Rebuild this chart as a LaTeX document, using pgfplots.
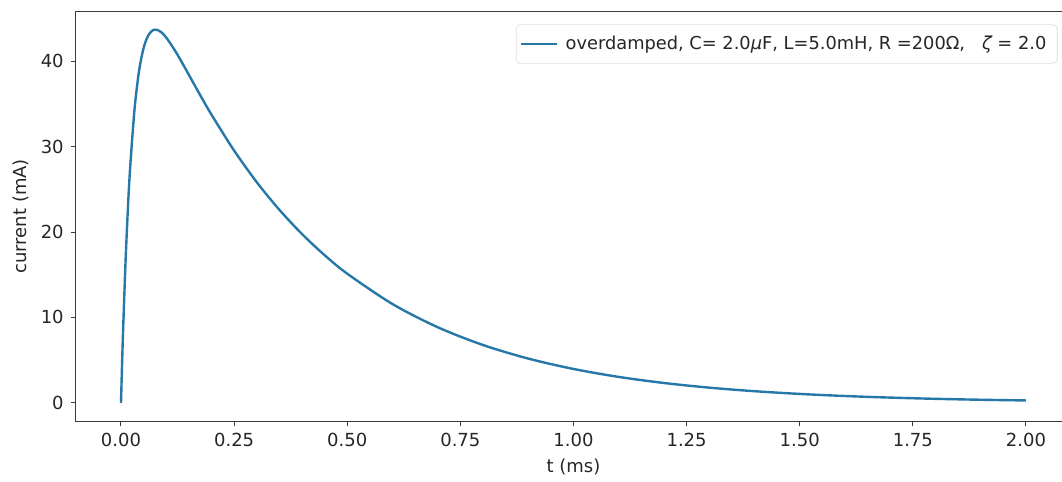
\documentclass[border=0pt]{standalone}
\usepackage{pgfplots}
\pgfplotsset{compat=1.18}
\usepackage{fontspec}
\setmainfont{DejaVu Sans}
\definecolor{line}{RGB}{38,120,168}
\definecolor{spine}{RGB}{60,60,60}
\begin{document}
\begin{tikzpicture}
\begin{axis}[
  width=497.5pt, height=205pt, scale only axis,
  xmin=-0.1, xmax=2.1, ymin=-2.184, ymax=45.864,
  clip=false,
  axis line style={spine, line width=0.5pt},
  xtick={0,0.25,0.5,0.75,1,1.25,1.5,1.75,2},
  ytick={0,10,20,30,40},
  xticklabel style={/pgf/number format/.cd, fixed, fixed zerofill, precision=2},
  /pgf/number format/assume math mode=true,
  tick align=outside, tick pos=left,
  major tick length=2.5pt,
  tick style={spine, line width=0.5pt},
  ticklabel style={font=\fontsize{9}{10}\selectfont, text=black!85},
  xlabel={t (ms)}, ylabel={current (mA)},
  label style={font=\fontsize{9}{10}\selectfont, text=black!85},
  xlabel style={yshift=1pt},
  ylabel style={yshift=-1pt},
  legend image code/.code={\draw[#1] (0pt,0pt) -- (18pt,0pt);},
  legend style={at={(0.9865,0.968)}, anchor=north east, draw=black!12, rounded corners=2pt,
    font=\fontsize{8.9}{10}\selectfont, inner xsep=2pt, inner ysep=3.5pt, text=black!85,
    nodes={inner xsep=3.5pt}},
  legend cell align=left,
]
\addplot[line, line width=1.2pt, smooth] coordinates {
(0,0) (0.0025,4.757) (0.005,9.060) (0.01,16.457) (0.015,22.476) (0.02,27.352)
(0.03,34.430) (0.04,38.892) (0.05,41.562) (0.06,43.009) (0.07,43.626)
(0.08,43.680) (0.09,43.356) (0.10,42.782) (0.12,41.204) (0.14,39.365)
(0.16,37.458) (0.18,35.572) (0.20,33.750) (0.25,29.543) (0.30,25.842)
(0.35,22.603) (0.40,19.768) (0.45,17.289) (0.50,15.121) (0.60,11.567)
(0.70,8.849) (0.80,6.768) (0.90,5.178) (1.00,3.961) (1.10,3.030)
(1.20,2.318) (1.30,1.773) (1.40,1.356) (1.50,1.037) (1.60,0.794)
(1.70,0.607) (1.80,0.464) (1.90,0.355) (2.00,0.272)
};
\addlegendentry{overdamped, C= 2.0{\itshape μ}F, L=5.0mH, R =200Ω, \ \ {\itshape ζ} = 2.0}
\coordinate (bl) at (axis cs:-0.2674,-9.17);
\coordinate (tr) at (axis cs:2.0796,47.18);
\end{axis}
\pgfresetboundingbox
\useasboundingbox (bl) rectangle (tr);
\end{tikzpicture}
\end{document}
